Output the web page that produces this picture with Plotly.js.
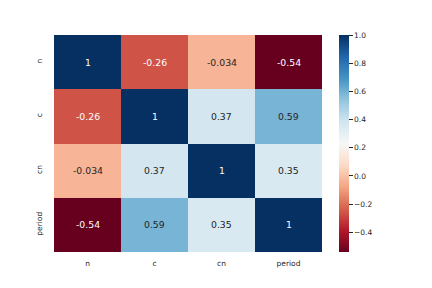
<!DOCTYPE html>
<html>
<head>
<meta charset="utf-8">
<script src="https://cdn.plot.ly/plotly-3.0.1.min.js"></script>
<style>html,body{margin:0;padding:0;background:#fff;}#chart{width:432px;height:288px;}</style>
</head>
<body>
<div id="chart"></div>
<script>
const labels = ["n", "c", "cn", "period"];
const row_n = [1, -0.26, -0.034, -0.54];
const row_c = [-0.26, 1, 0.37, 0.59];
const row_cn = [-0.034, 0.37, 1, 0.35];
const row_period = [-0.54, 0.59, 0.35, 1];
const colorbarTicks = [-0.4, -0.2, 0.0, 0.2, 0.4, 0.6, 0.8, 1.0];

const z = [row_n, row_c, row_cn, row_period];

// matplotlib RdBu
const rdbu = ["#67001f","#b2182b","#d6604d","#f4a582","#fddbc7","#f7f7f7","#d1e5f0","#92c5de","#4393c3","#2166ac","#053061"];
const colorscale = rdbu.map((c, i) => [i / (rdbu.length - 1), c]);

const flat = z.flat();
const zmin = Math.min(...flat);
const zmax = Math.max(...flat);

function hexToRgb(h){return [parseInt(h.slice(1,3),16),parseInt(h.slice(3,5),16),parseInt(h.slice(5,7),16)];}
function colorAt(v){
  let t = (v - zmin) / (zmax - zmin);
  t = Math.max(0, Math.min(1, t));
  const pos = t * (rdbu.length - 1);
  const i = Math.min(Math.floor(pos), rdbu.length - 2);
  const f = pos - i;
  const a = hexToRgb(rdbu[i]), b = hexToRgb(rdbu[i+1]);
  return a.map((x, k) => x + (b[k] - x) * f);
}
function luminance(rgb){
  const c = rgb.map(x => { x /= 255; return x <= 0.03928 ? x / 12.92 : Math.pow((x + 0.055) / 1.055, 2.4); });
  return 0.2126 * c[0] + 0.7152 * c[1] + 0.0722 * c[2];
}
function fmt(v){ return String(parseFloat(v.toPrecision(2))); }

const annotations = [];
z.forEach((row, i) => {
  row.forEach((v, j) => {
    const lum = luminance(colorAt(v));
    annotations.push({
      x: labels[j], y: labels[i], xref: 'x', yref: 'y',
      text: fmt(v), showarrow: false,
      font: {family: 'DejaVu Sans', size: 9.3, color: lum > 0.408 ? '#262626' : '#ffffff'}
    });
  });
});

const trace = {
  type: 'heatmap',
  x: labels, y: labels, z: z,
  colorscale: colorscale, zmin: zmin, zmax: zmax,
  xgap: 0, ygap: 0,
  hoverinfo: 'skip',
  colorbar: {
    x: 1.0634, xanchor: 'left', xref: 'paper',
    y: 0.5, yanchor: 'middle', len: 1, lenmode: 'fraction',
    thickness: 10, thicknessmode: 'pixels',
    outlinewidth: 0,
    tickvals: colorbarTicks, tickformat: '.1f', tickprefix: '\u2002',
    ticks: 'outside', ticklen: 4, tickwidth: 1, tickcolor: '#262626',
    tickfont: {family: 'DejaVu Sans', size: 7.5, color: '#262626'},
    xpad: 0, ypad: 0
  }
};

const layout = {
  width: 432, height: 288,
  margin: {l: 54, r: 110, t: 35, b: 36},
  paper_bgcolor: '#ffffff', plot_bgcolor: '#ffffff',
  font: {family: 'DejaVu Sans', color: '#262626'},
  xaxis: {
    type: 'category', showgrid: false, zeroline: false, showline: false,
    ticks: 'outside', ticklen: 4, tickcolor: 'rgba(0,0,0,0)',
    tickfont: {family: 'DejaVu Sans', size: 7.5, color: '#262626'},
    fixedrange: true
  },
  yaxis: {
    type: 'category', autorange: 'reversed', showgrid: false, zeroline: false, showline: false,
    ticks: 'outside', ticklen: 8, tickcolor: 'rgba(0,0,0,0)', tickangle: -90,
    tickfont: {family: 'DejaVu Sans', size: 7.5, color: '#262626'},
    fixedrange: true
  },
  annotations: annotations,
  showlegend: false
};

Plotly.newPlot('chart', [trace], layout, {displayModeBar: false, staticPlot: true});
</script>
</body>
</html>
